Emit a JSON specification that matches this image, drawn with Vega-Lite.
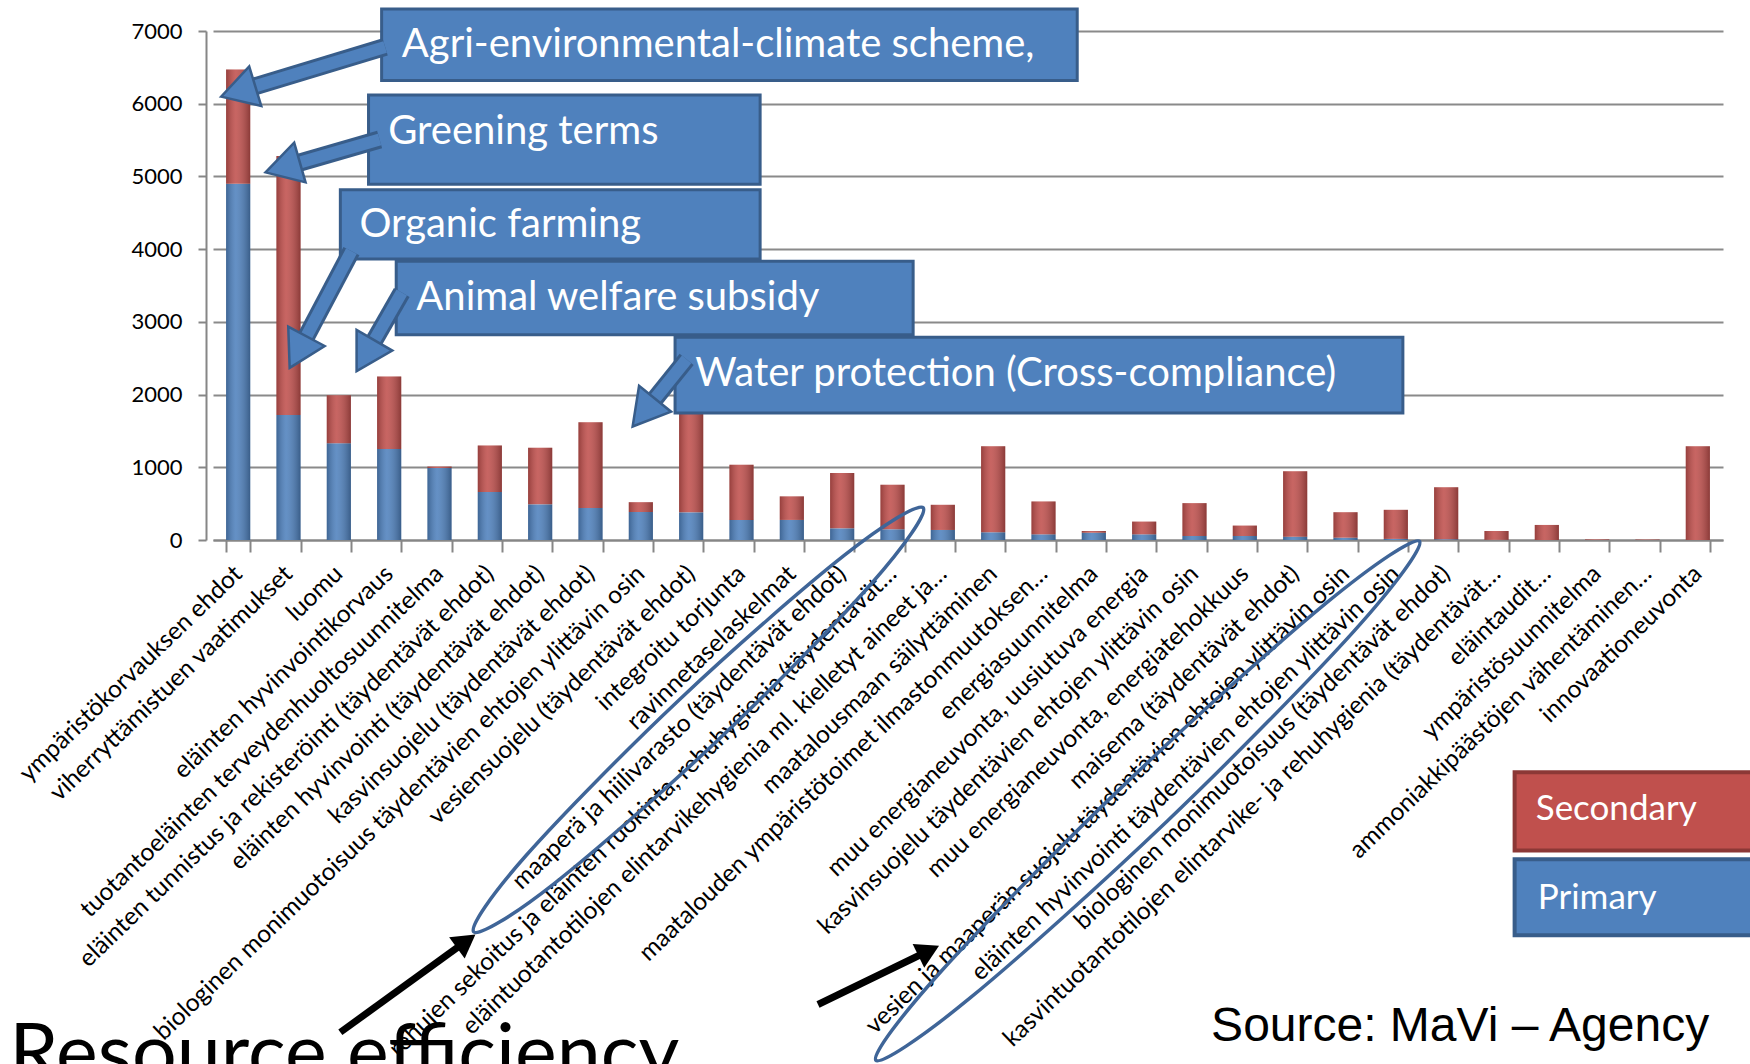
{
 "$schema": "https://vega.github.io/schema/vega-lite/v6.json",
 "width": 1510,
 "height": 509,
 "autosize": {"type": "none"},
 "padding": {"left": 213, "top": 31, "right": 27, "bottom": 524},
 "background": "white",
 "config": {"view": {"stroke": null}, "font": "Lato"},
 "datasets": {
  "bars": [
   {"i": 1, "cat": "ympäristökorvauksen ehdot", "Primary": 4900, "Secondary": 1570},
   {"i": 2, "cat": "viherryttämistuen vaatimukset", "Primary": 1720, "Secondary": 3560},
   {"i": 3, "cat": "luomu", "Primary": 1330, "Secondary": 660},
   {"i": 4, "cat": "eläinten hyvinvointikorvaus", "Primary": 1250, "Secondary": 1000},
   {"i": 5, "cat": "tuotantoeläinten terveydenhuoltosuunnitelma", "Primary": 990, "Secondary": 20},
   {"i": 6, "cat": "eläinten tunnistus ja rekisteröinti (täydentävät ehdot)", "Primary": 660, "Secondary": 640},
   {"i": 7, "cat": "eläinten hyvinvointi (täydentävät ehdot)", "Primary": 490, "Secondary": 780},
   {"i": 8, "cat": "kasvinsuojelu (täydentävät ehdot)", "Primary": 440, "Secondary": 1180},
   {"i": 9, "cat": "biologinen monimuotoisuus täydentävien ehtojen ylittävin osin", "Primary": 385, "Secondary": 135},
   {"i": 10, "cat": "vesiensuojelu (täydentävät ehdot)", "Primary": 380, "Secondary": 1520},
   {"i": 11, "cat": "integroitu torjunta", "Primary": 276, "Secondary": 760},
   {"i": 12, "cat": "ravinnetaselaskelmat", "Primary": 276, "Secondary": 324},
   {"i": 13, "cat": "maaperä ja hiilivarasto (täydentävät ehdot)", "Primary": 160, "Secondary": 760},
   {"i": 14, "cat": "rehujen sekoitus ja eläinten ruokinta, rehuhygienia (täydentävät…", "Primary": 147, "Secondary": 613},
   {"i": 15, "cat": "eläintuotantotilojen elintarvikehygienia ml. kielletyt aineet ja…", "Primary": 138, "Secondary": 346},
   {"i": 16, "cat": "maatalousmaan säilyttäminen", "Primary": 106, "Secondary": 1184},
   {"i": 17, "cat": "maatalouden ympäristötoimet ilmastonmuutoksen…", "Primary": 78, "Secondary": 452},
   {"i": 18, "cat": "energiasuunnitelma", "Primary": 100, "Secondary": 24},
   {"i": 19, "cat": "muu energianeuvonta, uusiutuva energia", "Primary": 78, "Secondary": 175},
   {"i": 20, "cat": "kasvinsuojelu täydentävien ehtojen ylittävin osin", "Primary": 55, "Secondary": 452},
   {"i": 21, "cat": "muu energianeuvonta, energiatehokkuus", "Primary": 55, "Secondary": 143},
   {"i": 22, "cat": "maisema (täydentävät ehdot)", "Primary": 46, "Secondary": 899},
   {"i": 23, "cat": "vesien ja maaperän suojelu täydentävien ehtojen ylittävin osin", "Primary": 32, "Secondary": 350},
   {"i": 24, "cat": "eläinten hyvinvointi täydentävien ehtojen ylittävin osin", "Primary": 15, "Secondary": 400},
   {"i": 25, "cat": "biologinen monimuotoisuus (täydentävät ehdot)", "Primary": 10, "Secondary": 714},
   {"i": 26, "cat": "kasvintuotantotilojen elintarvike- ja rehuhygienia (täydentävät…", "Primary": 2, "Secondary": 122},
   {"i": 27, "cat": "eläintaudit…", "Primary": 0, "Secondary": 207},
   {"i": 28, "cat": "ympäristösuunnitelma", "Primary": 0, "Secondary": 8},
   {"i": 29, "cat": "ammoniakkipäästöjen vähentäminen…", "Primary": 0, "Secondary": 6},
   {"i": 30, "cat": "innovaationeuvonta", "Primary": 0, "Secondary": 1290}
  ],
  "boxes": [
   {"k": "agri", "x": 3.35, "x2": 17.17, "y": 7304, "y2": 6320, "tx": 3.75, "ty": 6813, "label": "Agri-environmental-climate scheme,"},
   {"k": "green", "x": 3.09, "x2": 10.87, "y": 6121, "y2": 4893, "tx": 3.48, "ty": 5615, "label": "Greening terms"},
   {"k": "organic", "x": 2.53, "x2": 10.87, "y": 4817, "y2": 3866, "tx": 2.91, "ty": 4326, "label": "Organic farming"},
   {"k": "animal", "x": 3.64, "x2": 13.91, "y": 3834, "y2": 2822, "tx": 4.04, "ty": 3328, "label": "Animal welfare subsidy"},
   {"k": "water", "x": 9.18, "x2": 23.64, "y": 2790, "y2": 1747, "tx": 9.58, "ty": 2284, "label": "Water protection (Cross-compliance)"}
  ],
  "blueArrows": [
   {"x": 3.42, "y": 6781, "x2": 0.5, "y2": 6169, "a": 253},
   {"x": 3.31, "y": 5508, "x2": 1.385, "y2": 5123, "a": 254},
   {"x": 2.75, "y": 3973, "x2": 1.69, "y2": 2584, "a": 208},
   {"x": 3.75, "y": 3405, "x2": 3.03, "y2": 2534, "a": 210},
   {"x": 9.41, "y": 2484, "x2": 8.56, "y2": 1752, "a": 219}
  ],
  "blackArrows": [
   {"x": 2.53, "y": -6770, "x2": 5.03, "y2": -5517, "a": 54},
   {"x": 12.02, "y": -6388, "x2": 14.22, "y2": -5649, "a": 64}
  ],
  "ellipses": [
   {"e": 1, "o": 0, "x": 14.11, "y": 443},
   {"e": 1, "o": 1, "x": 13.07, "y": -609},
   {"e": 1, "o": 2, "x": 10.03, "y": -2753},
   {"e": 1, "o": 3, "x": 6.76, "y": -4735},
   {"e": 1, "o": 4, "x": 5.18, "y": -5389},
   {"e": 1, "o": 5, "x": 6.22, "y": -4339},
   {"e": 1, "o": 6, "x": 9.27, "y": -2193},
   {"e": 1, "o": 7, "x": 12.54, "y": -213},
   {"e": 2, "o": 0, "x": 23.97, "y": -18},
   {"e": 2, "o": 1, "x": 22.66, "y": -1260},
   {"e": 2, "o": 2, "x": 18.96, "y": -3864},
   {"e": 2, "o": 3, "x": 15.03, "y": -6305},
   {"e": 2, "o": 4, "x": 13.17, "y": -7155},
   {"e": 2, "o": 5, "x": 14.49, "y": -5913},
   {"e": 2, "o": 6, "x": 18.19, "y": -3309},
   {"e": 2, "o": 7, "x": 22.12, "y": -866}
  ],
  "legendBoxes": [
   {"series": "Secondary", "x": 25.86, "x2": 30.8, "y": -3195, "y2": -4269, "tx": 26.28, "ty": -3702},
   {"series": "Primary", "x": 25.86, "x2": 30.8, "y": -4392, "y2": -5436, "tx": 26.32, "ty": -4929}
  ],
  "notes": [
   {"k": "source", "x": 19.83, "y": -6695, "label": "Source: MaVi – Agency"},
   {"k": "resource", "x": -4.05, "y": -7426, "label": "Resource efficiency"}
  ]
 },
 "layer": [
  {
   "data": {"name": "bars"},
   "transform": [{"fold": ["Primary", "Secondary"], "as": ["series", "value"]}],
   "encoding": {
    "x": {
     "field": "cat", "type": "nominal", "sort": {"field": "i", "op": "min"},
     "scale": {"paddingInner": 0.52, "paddingOuter": 0.26},
     "axis": {
      "title": null, "labelAngle": -44, "labelAlign": "right", "labelBaseline": "middle",
      "labelFont": "Lato", "labelFontSize": 24.5, "labelColor": "#000", "labelLimit": 1200,
      "labelPadding": 18, "domainColor": "#868686", "domainWidth": 2,
      "tickColor": "#868686", "tickWidth": 2, "tickSize": 12, "tickBand": "extent"
     }
    },
    "y": {
     "field": "value", "type": "quantitative", "stack": "zero",
     "scale": {"domain": [0, 7000], "nice": false},
     "axis": {
      "title": null, "values": [0, 1000, 2000, 3000, 4000, 5000, 6000, 7000], "format": "d",
      "labelFont": "Lato", "labelFontSize": 22, "labelColor": "#000", "labelPadding": 16,
      "domainColor": "#868686", "domainWidth": 2, "tickColor": "#868686", "tickWidth": 2, "tickSize": 8,
      "gridColor": "#8a8a8a", "gridWidth": 2, "offset": 7
     }
    },
    "order": {"field": "series", "sort": "ascending"}
   },
   "layer": [
    {
     "mark": {"type": "bar"},
     "encoding": {
      "color": {"field": "series", "type": "nominal", "legend": null,
       "scale": {"domain": ["Primary", "Secondary"], "range": ["#4f81bd", "#c0504d"]}}
     }
    },
    {
     "mark": {"type": "bar", "fill": {"gradient": "linear", "x1": 0, "x2": 1, "y1": 0, "y2": 0,
      "stops": [{"offset": 0, "color": "rgba(0,0,0,0.22)"}, {"offset": 0.4, "color": "rgba(255,255,255,0.12)"}, {"offset": 1, "color": "rgba(0,0,0,0.28)"}]}}
    }
   ]
  },
  {
   "encoding": {
    "x": {"type": "quantitative", "scale": {"domain": [0, 30], "nice": false, "zero": false}, "axis": null},
    "y": {"type": "quantitative", "scale": {"domain": [0, 7000], "nice": false, "zero": false}, "axis": null}
   },
   "layer": [
    {
     "data": {"name": "boxes"},
     "mark": {"type": "rect", "fill": "#4f81bd", "stroke": "#385d8a", "strokeWidth": 3, "clip": false},
     "encoding": {"x": {"field": "x", "type": "quantitative"}, "x2": {"field": "x2"}, "y": {"field": "y", "type": "quantitative"}, "y2": {"field": "y2"}}
    },
    {
     "data": {"name": "boxes"},
     "mark": {"type": "text", "align": "left", "baseline": "middle", "fill": "white", "font": "Lato", "fontSize": 40},
     "encoding": {"x": {"field": "tx", "type": "quantitative"}, "y": {"field": "ty", "type": "quantitative"}, "text": {"field": "label"}}
    },
    {
     "data": {"name": "blueArrows"},
     "mark": {"type": "rule", "stroke": "#385d8a", "strokeWidth": 18},
     "encoding": {"x": {"field": "x", "type": "quantitative"}, "y": {"field": "y", "type": "quantitative"}, "x2": {"field": "x2"}, "y2": {"field": "y2"}}
    },
    {
     "data": {"name": "blueArrows"},
     "mark": {"type": "rule", "stroke": "#4f81bd", "strokeWidth": 12},
     "encoding": {"x": {"field": "x", "type": "quantitative"}, "y": {"field": "y", "type": "quantitative"}, "x2": {"field": "x2"}, "y2": {"field": "y2"}}
    },
    {
     "data": {"name": "blueArrows"},
     "mark": {"type": "point", "shape": "triangle-up", "filled": true, "fill": "#4f81bd", "stroke": "#385d8a", "strokeWidth": 2.5, "size": 1700, "opacity": 1},
     "encoding": {"x": {"field": "x2", "type": "quantitative"}, "y": {"field": "y2", "type": "quantitative"}, "angle": {"field": "a", "type": "quantitative", "scale": null}}
    },
    {
     "data": {"name": "ellipses"},
     "mark": {"type": "line", "interpolate": "cardinal-closed", "stroke": "#3f6598", "strokeWidth": 3.5},
     "encoding": {"x": {"field": "x", "type": "quantitative"}, "y": {"field": "y", "type": "quantitative"}, "detail": {"field": "e"}, "order": {"field": "o"}}
    },
    {
     "data": {"name": "blackArrows"},
     "mark": {"type": "rule", "stroke": "black", "strokeWidth": 7},
     "encoding": {"x": {"field": "x", "type": "quantitative"}, "y": {"field": "y", "type": "quantitative"}, "x2": {"field": "x2"}, "y2": {"field": "y2"}}
    },
    {
     "data": {"name": "blackArrows"},
     "mark": {"type": "point", "shape": "triangle-up", "filled": true, "fill": "black", "size": 700, "opacity": 1},
     "encoding": {"x": {"field": "x2", "type": "quantitative"}, "y": {"field": "y2", "type": "quantitative"}, "angle": {"field": "a", "type": "quantitative", "scale": null}}
    },
    {
     "data": {"name": "legendBoxes"},
     "mark": {"type": "rect", "strokeWidth": 4},
     "encoding": {
      "x": {"field": "x", "type": "quantitative"}, "x2": {"field": "x2"}, "y": {"field": "y", "type": "quantitative"}, "y2": {"field": "y2"},
      "fill": {"field": "series", "type": "nominal", "legend": null, "scale": {"domain": ["Primary", "Secondary"], "range": ["#4f81bd", "#c0504d"]}},
      "stroke": {"field": "series", "type": "nominal", "legend": null, "scale": {"domain": ["Primary", "Secondary"], "range": ["#385d8a", "#8c3836"]}}
     }
    },
    {
     "data": {"name": "legendBoxes"},
     "mark": {"type": "text", "align": "left", "baseline": "middle", "fill": "white", "font": "Lato", "fontSize": 35},
     "encoding": {"x": {"field": "tx", "type": "quantitative"}, "y": {"field": "ty", "type": "quantitative"}, "text": {"field": "series"}}
    },
    {
     "data": {"name": "notes"},
     "transform": [{"filter": "datum.k === 'source'"}],
     "mark": {"type": "text", "align": "left", "baseline": "middle", "fill": "black", "font": "Liberation Sans", "fontSize": 48},
     "encoding": {"x": {"field": "x", "type": "quantitative"}, "y": {"field": "y", "type": "quantitative"}, "text": {"field": "label"}}
    },
    {
     "data": {"name": "notes"},
     "transform": [{"filter": "datum.k === 'resource'"}],
     "mark": {"type": "text", "align": "left", "baseline": "alphabetic", "fill": "black", "font": "Lato", "fontSize": 79},
     "encoding": {"x": {"field": "x", "type": "quantitative"}, "y": {"field": "y", "type": "quantitative"}, "text": {"field": "label"}}
    }
   ]
  }
 ],
 "resolve": {"scale": {"x": "independent", "y": "independent"}}
}
